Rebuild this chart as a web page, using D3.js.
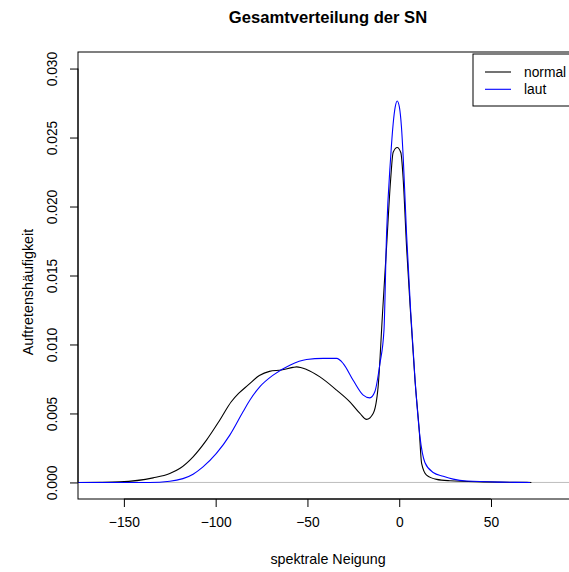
<!DOCTYPE html>
<html>
<head>
<meta charset="utf-8">
<script src="https://cdn.jsdelivr.net/npm/d3@7"></script>
<style>
  html, body { margin: 0; padding: 0; background: #fff; }
  svg { display: block; font-family: "Liberation Sans", Arial, Helvetica, sans-serif; }
</style>
</head>
<body>
<svg id="chart" width="569" height="572"></svg>
<script>
// Density estimate of the spectral slope, "normal" speech
const normalX = [-175, -163.2, -152.3, -134.1, -125.0, -119.6, -112.3, -105.0, -97.8, -91.5, -87.5, -82.4,
  -76.2, -70.7, -64.2, -57.9, -55.9, -50.5, -43.2, -34.1, -26.9, -21.4, -17.8, -14.2, -11.5, -9.1, -6.9, -4.7,
  -3.3, -1.1, 0.9, 2.2, 4.0, 6.2, 8.6, 10.9, 12.2, 14.9, 20.4, 27.6, 45.8, 60, 72];
const normalY = [0, 0.00001, 0.00004, 0.00033, 0.00065, 0.00101, 0.00186, 0.00307, 0.00451, 0.00585, 0.00645, 0.00705,
  0.00775, 0.00805, 0.00815, 0.00834, 0.00838, 0.00819, 0.00765, 0.00669, 0.00584, 0.00500, 0.00457, 0.00500, 0.00693, 0.01225, 0.01707, 0.02191,
  0.02393, 0.02428, 0.0239, 0.02191, 0.01707, 0.01225, 0.00741, 0.00379, 0.00138, 0.00053, 0.00022, 0.00012, 0.00004, 0.00001, 0];

// Density estimate of the spectral slope, "laut" (loud) speech
const lautX = [-175, -136, -125.0, -112.3, -106.9, -99.6, -92.3, -85.1, -81.4, -76.0, -68.7, -59.6, -50.5,
  -41.4, -34.1, -30.5, -25.1, -19.6, -16.0, -13.3, -10.5, -8.3, -6.9, -4.7, -3.3, -2.2, -1.1, 0.1, 1.2,
  2.2, 4.0, 6.2, 8.6, 11.3, 14.0, 18.5, 24.0, 29.4, 36.8, 54.9, 71.3];
const lautY = [0, 0, 0.00009, 0.0006, 0.00113, 0.0021, 0.00343, 0.00512, 0.00596, 0.00693, 0.00778, 0.0085, 0.00891,
  0.00899, 0.00899, 0.00862, 0.00741, 0.00633, 0.00613, 0.00657, 0.00862, 0.01104, 0.0180, 0.0235, 0.0260, 0.0272, 0.02765, 0.0272, 0.0258,
  0.0235, 0.0180, 0.0125, 0.0075, 0.0033, 0.00145, 0.00072, 0.00045, 0.00024, 0.0001, 0.00002, 0];

const xTicks = [-150, -100, -50, 0, 50];
const yTicks = [0, 0.005, 0.010, 0.015, 0.020, 0.025, 0.030];
const seriesNames = ["normal", "laut"];
const seriesColors = ["#000000", "#0000ff"];

const titleText = "Gesamtverteilung der SN";
const xLabel = "spektrale Neigung";
const yLabel = "Auftretenshäufigkeit";

const svg = d3.select("#chart");
const plot = { left: 78, right: 578, top: 52, bottom: 499 };

const x = d3.scaleLinear().domain([-175, 97.4]).range([plot.left, plot.right]);
const y = d3.scaleLinear().domain([-0.0012, 0.0312]).range([plot.bottom, plot.top]);

svg.append("defs").append("clipPath").attr("id", "plotClip")
  .append("rect")
  .attr("x", plot.left).attr("y", plot.top)
  .attr("width", plot.right - plot.left).attr("height", plot.bottom - plot.top);

// zero reference line
svg.append("line")
  .attr("x1", plot.left).attr("x2", plot.right)
  .attr("y1", y(0)).attr("y2", y(0))
  .attr("stroke", "#bebebe").attr("stroke-width", 1);

const line = d3.line().x(d => x(d[0])).y(d => y(d[1])).curve(d3.curveMonotoneX);

const series = [
  d3.zip(normalX, normalY),
  d3.zip(lautX, lautY)
];

svg.append("g").attr("clip-path", "url(#plotClip)")
  .selectAll("path").data(series).join("path")
  .attr("d", line)
  .attr("fill", "none")
  .attr("stroke", (d, i) => seriesColors[i])
  .attr("stroke-width", 1.1);

// plot box
svg.append("rect")
  .attr("x", plot.left).attr("y", plot.top)
  .attr("width", plot.right - plot.left).attr("height", plot.bottom - plot.top)
  .attr("fill", "none").attr("stroke", "#000").attr("stroke-width", 1);

// x axis
const xAxis = svg.append("g")
  .attr("transform", `translate(0,${plot.bottom})`)
  .call(d3.axisBottom(x).tickValues(xTicks).tickSize(8).tickSizeOuter(0).tickPadding(10));
xAxis.select(".domain").remove();
xAxis.append("line")
  .attr("x1", x(xTicks[0])).attr("x2", x(xTicks[xTicks.length - 1]))
  .attr("stroke", "#000");
xAxis.selectAll("text").attr("font-size", 13.8).attr("fill", "#000")
  .attr("font-family", "'Liberation Sans', Arial, sans-serif");

// y axis with rotated labels
const yAxis = svg.append("g")
  .attr("transform", `translate(${plot.left},0)`)
  .call(d3.axisLeft(y).tickValues(yTicks).tickSize(8).tickSizeOuter(0).tickFormat(d3.format(".3f")));
yAxis.select(".domain").remove();
yAxis.append("line")
  .attr("y1", y(yTicks[0])).attr("y2", y(yTicks[yTicks.length - 1]))
  .attr("stroke", "#000");
yAxis.selectAll(".tick text")
  .attr("transform", "rotate(-90)")
  .attr("x", 0).attr("y", -26).attr("dy", "0.35em")
  .attr("text-anchor", "middle")
  .attr("font-size", 13.8).attr("fill", "#000")
  .attr("font-family", "'Liberation Sans', Arial, sans-serif");

const midX = (plot.left + plot.right) / 2;

svg.append("text")
  .attr("x", midX).attr("y", 23)
  .attr("text-anchor", "middle")
  .attr("font-size", 16.6).attr("font-weight", "bold")
  .text(titleText);

svg.append("text")
  .attr("x", midX).attr("y", 564)
  .attr("text-anchor", "middle")
  .attr("font-size", 14.3)
  .text(xLabel);

svg.append("text")
  .attr("transform", `translate(28,292) rotate(-90)`)
  .attr("dy", "0.35em")
  .attr("text-anchor", "middle")
  .attr("font-size", 14.3)
  .text(yLabel);

// legend
const legend = svg.append("g");
legend.append("rect")
  .attr("x", 473).attr("y", 54)
  .attr("width", 105).attr("height", 52)
  .attr("fill", "#fff").attr("stroke", "#000").attr("stroke-width", 1);
const rows = legend.selectAll("g.row").data(seriesNames).join("g")
  .attr("class", "row")
  .attr("transform", (d, i) => `translate(0,${72 + i * 17.3})`);
rows.append("line")
  .attr("x1", 485).attr("x2", 511)
  .attr("stroke", (d, i) => seriesColors[i]).attr("stroke-width", 1.1);
rows.append("text")
  .attr("x", 524).attr("dy", "0.35em")
  .attr("font-size", 13.8)
  .text(d => d);
</script>
</body>
</html>
